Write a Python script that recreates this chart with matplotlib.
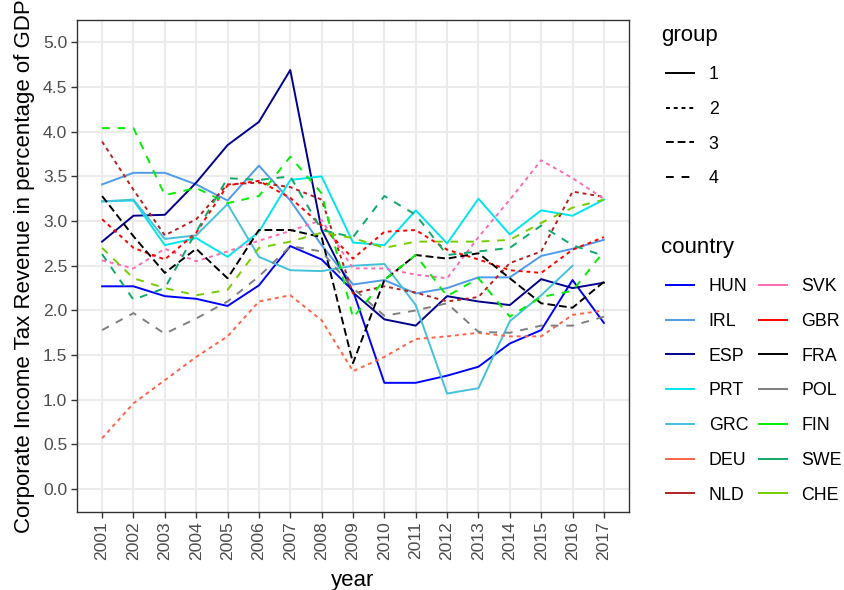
import numpy as np
import matplotlib
matplotlib.use("Agg")
import matplotlib.pyplot as plt
from matplotlib.lines import Line2D

plt.rcParams['font.family'] = ['Liberation Sans', 'DejaVu Sans']

years = np.arange(2001, 2018)

# corporate income tax revenue, % of GDP
HUN = [2.27, 2.27, 2.16, 2.13, 2.05, 2.28, 2.72, 2.57, 2.22, 1.19, 1.19, 1.27, 1.37, 1.63, 1.78, 2.34, 1.86]
IRL = [3.41, 3.54, 3.54, 3.41, 3.23, 3.62, 3.23, 2.73, 2.29, 2.34, 2.19, 2.25, 2.37, 2.37, 2.61, 2.69, 2.79]
ESP = [2.77, 3.06, 3.07, 3.43, 3.85, 4.11, 4.69, 2.90, 2.20, 1.90, 1.83, 2.16, 2.10, 2.06, 2.35, 2.25, 2.31]
PRT = [3.22, 3.23, 2.73, 2.81, 2.60, 2.88, 3.46, 3.50, 2.76, 2.73, 3.12, 2.75, 3.25, 2.85, 3.12, 3.06, 3.24]
GRC = [3.22, 3.24, 2.80, 2.84, 3.19, 2.60, 2.45, 2.44, 2.50, 2.52, 2.06, 1.07, 1.13, 1.88, 2.17, 2.50, np.nan]
DEU = [0.57, 0.96, 1.22, 1.48, 1.71, 2.10, 2.17, 1.89, 1.32, 1.48, 1.68, 1.71, 1.75, 1.71, 1.71, 1.95, 2.00]
NLD = [3.89, 3.35, 2.84, 3.02, 3.41, 3.43, 3.38, 3.24, 2.19, 2.27, 2.20, 2.10, 2.15, 2.53, 2.66, 3.33, 3.27]
SVK = [2.56, 2.47, 2.69, 2.55, 2.66, 2.78, 2.89, 3.01, 2.47, 2.47, 2.40, 2.36, 2.82, 3.24, 3.68, 3.48, 3.25]
GBR = [3.02, 2.70, 2.57, 2.87, 3.40, 3.45, 3.26, 2.95, 2.58, 2.88, 2.90, 2.68, 2.57, 2.45, 2.42, 2.68, 2.82]
FRA = [3.28, 2.83, 2.42, 2.69, 2.36, 2.90, 2.90, 2.82, 1.41, 2.34, 2.62, 2.58, 2.64, 2.36, 2.08, 2.03, 2.32]
POL = [1.78, 1.97, 1.74, 1.91, 2.10, 2.38, 2.72, 2.66, 2.25, 1.94, 2.00, 2.08, 1.76, 1.75, 1.83, 1.83, 1.93]
FIN = [4.04, 4.04, 3.29, 3.37, 3.20, 3.28, 3.72, 3.31, 1.92, 2.34, 2.62, 2.16, 2.36, 1.93, 2.15, 2.22, 2.66]
SWE = [2.63, 2.12, 2.25, 2.88, 3.48, 3.46, 3.50, 2.90, 2.82, 3.28, 3.07, 2.62, 2.66, 2.70, 2.95, 2.73, 2.61]
CHE = [2.70, 2.36, 2.25, 2.17, 2.23, 2.70, 2.77, 2.87, 2.81, 2.70, 2.77, 2.77, 2.77, 2.79, 2.98, 3.15, 3.24]

countries = ["HUN", "IRL", "ESP", "PRT", "GRC", "DEU", "NLD",
             "SVK", "GBR", "FRA", "POL", "FIN", "SWE", "CHE"]
values = [HUN, IRL, ESP, PRT, GRC, DEU, NLD, SVK, GBR, FRA, POL, FIN, SWE, CHE]
groups = [1, 1, 1, 1, 1, 2, 2, 2, 2, 3, 4, 4, 4, 4]
colors = ["#0000FF", "#4F9BEA", "#00008B", "#00E5EE", "#45C1D8", "#FF6347", "#B22222",
          "#FF69B4", "#FF0000", "#000000", "#7F7F7F", "#00EE00", "#0FA86A", "#76CC00"]

styles = {1: "-", 2: (0, (2, 2)), 3: (0, (4, 2)), 4: (0, (4, 4))}
lw = 1.4
tick_fs = 12.6
leg_fs = 12.8
title_fs = 16

fig = plt.figure(figsize=(8.45, 5.9), dpi=100)
ax = fig.add_axes([77 / 845, 1 - 511.5 / 590, (629 - 77) / 845, (511.5 - 20) / 590])

for name, vals, g, c in zip(countries, values, groups, colors):
    ax.plot(years, vals, color=c, linestyle=styles[g], linewidth=lw)

ax.set_xlim(2000.2, 2017.8)
ax.set_ylim(-0.25, 5.25)
ax.set_xticks(years)
ax.set_xticklabels([str(y) for y in years], rotation=90)
ax.set_yticks(np.arange(0, 5.01, 0.5))
ax.set_yticklabels(["%.1f" % v for v in np.arange(0, 5.01, 0.5)])
ax.grid(True, color="#EBEBEB", linewidth=1.5)
ax.set_axisbelow(True)
for s in ax.spines.values():
    s.set_color("#333333")
    s.set_linewidth(1.0)
ax.tick_params(colors="#333333", labelcolor="#4D4D4D", labelsize=tick_fs, length=4, width=1.0, pad=3)
ax.set_xlabel("year", fontsize=title_fs, labelpad=7)
ax.set_ylabel("Corporate Income Tax Revenue in percentage of GDP", fontsize=title_fs, labelpad=6)

# legend titles drawn as plain text so they sit a bit left of the keys, like ggplot
fig.text(661 / 845, 1 - 36 / 590, "group", fontsize=title_fs, va="center", ha="left")
fig.text(661 / 845, 1 - 248 / 590, "country", fontsize=title_fs, va="center", ha="left")

grp_handles = [Line2D([], [], color="black", linestyle=styles[g], linewidth=lw) for g in [1, 2, 3, 4]]
leg1 = fig.legend(grp_handles, ["1", "2", "3", "4"], loc="upper left",
                  bbox_to_anchor=(650 / 845, 1 - 50 / 590), frameon=False, fontsize=leg_fs,
                  handlelength=1.6, handletextpad=0.8, labelspacing=1.0)

cty_handles = [Line2D([], [], color=c, linewidth=lw) for c in colors]
leg2 = fig.legend(cty_handles, countries, loc="upper left", ncol=2,
                  bbox_to_anchor=(650 / 845, 1 - 262 / 590), frameon=False, fontsize=leg_fs,
                  handlelength=1.6, handletextpad=0.8, labelspacing=1.0,
                  columnspacing=0.6)

fig.savefig("out.png", dpi=100)
